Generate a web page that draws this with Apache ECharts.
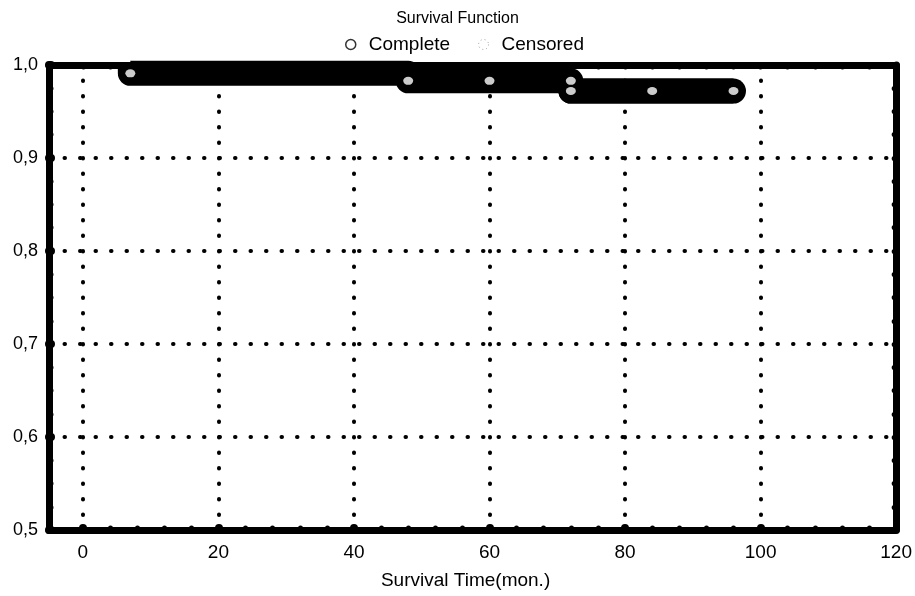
<!DOCTYPE html>
<html>
<head>
<meta charset="utf-8">
<script src="https://cdn.jsdelivr.net/npm/echarts@6/dist/echarts.min.js"></script>
<style>
  html, body { margin: 0; padding: 0; background: #fff; }
  #show { width: 915px; height: 596px; }
</style>
</head>
<body>
<div id="show"></div>
<script>
var myChart = echarts.init(document.getElementById("show"));

// step function of the survival estimate
var stepTimes = [7, 48, 72];
var survival = [1.0, 0.991, 0.983, 0.972];
var endTime = 96;

// markers
var completeTimes = [7, 48, 72];
var completeValues = [0.991, 0.983, 0.972];
var censoredTimes = [60, 72, 84, 96];
var censoredValues = [0.983, 0.983, 0.972, 0.972];

var xLabels = [0, 20, 40, 60, 80, 100, 120];
var xMajor = [0, 20, 40, 60, 80, 100];
var xMinor = [0, 4, 8, 12, 16, 20, 24, 28, 32, 36, 40, 44, 48, 52, 56, 60, 64, 68, 72, 76, 80, 84, 88, 92, 96, 100, 104, 108, 112, 116];

var stepData = [];
for (var i = 0; i < stepTimes.length; i++) {
    stepData.push([stepTimes[i], survival[i]]);
    stepData.push([stepTimes[i], survival[i + 1]]);
}
stepData.push([endTime, survival[survival.length - 1]]);
// last horizontal piece, drawn again with a round end
var tailData = stepData.slice(-2);

function pairs(xs, ys) {
    return xs.map(function (x, i) { return [x, ys[i]]; });
}

var font = 'Liberation Sans, Arial, sans-serif';
var dots = { color: '#000', width: 4, type: [0.5, 15], cap: 'round' };
var border = { show: true, onZero: false, lineStyle: { color: '#000', width: 7, cap: 'round' } };

myChart.setOption(option = {
    animation: false,
    title: {
        text: 'Survival Function',
        left: 'center',
        top: 6,
        textStyle: { fontFamily: font, fontSize: 16, fontWeight: 'normal', color: '#000' }
    },
    legend: {
        top: 30,
        left: 340,
        itemGap: 28,
        itemWidth: 10,
        itemHeight: 10,
        textStyle: { fontFamily: font, fontSize: 19, color: '#000', padding: [0, 0, 0, 8] },
        data: [
            { name: 'Complete', itemStyle: { color: '#fff', borderColor: '#000', borderWidth: 1.5 } },
            { name: 'Censored', itemStyle: { color: '#fff', borderColor: '#888', borderWidth: 1, borderType: [1, 3] } }
        ]
    },
    grid: { left: 49, right: 16, top: 65, bottom: 66 },
    xAxis: [
        {
            type: 'value', position: 'bottom', min: -5, max: 120,
            name: 'Survival Time(mon.)', nameLocation: 'middle', nameGap: 41,
            nameTextStyle: { fontFamily: font, fontSize: 19, color: '#000', padding: [0, 14, 0, 0] },
            axisLine: border,
            axisTick: { show: true, inside: true, length: 2, customValues: xMajor,
                lineStyle: { color: '#000', width: 8, cap: 'round' } },
            axisLabel: { customValues: xLabels, margin: 13, color: '#000', fontFamily: font, fontSize: 19 },
            splitLine: { show: true, lineStyle: dots }
        },
        {
            type: 'value', position: 'bottom', min: -5, max: 120,
            axisLine: { show: false, onZero: false },
            axisTick: { show: true, inside: true, length: 2, customValues: xMinor,
                lineStyle: { color: '#000', width: 5, cap: 'round' } },
            axisLabel: { show: false },
            splitLine: { show: false }
        },
        {
            type: 'value', position: 'top', min: -5, max: 120,
            axisLine: border,
            axisTick: { show: true, inside: true, length: 2, customValues: xMinor,
                lineStyle: { color: '#000', width: 5, cap: 'round' } },
            axisLabel: { show: false },
            splitLine: { show: false }
        }
    ],
    yAxis: [
        {
            type: 'value', position: 'left', min: 0.5, max: 1.0, interval: 0.1,
            axisLine: border,
            axisTick: { show: true, inside: true, length: 2, lineStyle: { color: '#000', width: 8, cap: 'round' } },
            minorTick: { show: true, splitNumber: 4, length: 2, lineStyle: { color: '#000', width: 5, cap: 'round' } },
            axisLabel: {
                margin: 11, color: '#000', fontFamily: font, fontSize: 18,
                formatter: function (v) { return v.toFixed(1).replace('.', ','); }
            },
            splitLine: { show: true, lineStyle: dots }
        },
        {
            type: 'value', position: 'right', min: 0.5, max: 1.0, interval: 0.1,
            axisLine: border,
            axisTick: { show: true, inside: true, length: 2, lineStyle: { color: '#000', width: 5, cap: 'round' } },
            minorTick: { show: true, splitNumber: 4, length: 2, lineStyle: { color: '#000', width: 5, cap: 'round' } },
            axisLabel: { show: false },
            splitLine: { show: false }
        }
    ],
    series: [
        {
            name: 'step',
            type: 'line',
            xAxisIndex: 0, yAxisIndex: 0,
            data: stepData,
            showSymbol: false,
            z: 3,
            lineStyle: { color: '#000', width: 25, cap: 'butt', join: 'round' }
        },
        {
            name: 'tail',
            type: 'line',
            xAxisIndex: 0, yAxisIndex: 0,
            data: tailData,
            showSymbol: false,
            z: 3,
            lineStyle: { color: '#000', width: 25, cap: 'round' }
        },
        {
            name: 'Complete',
            type: 'scatter',
            xAxisIndex: 0, yAxisIndex: 0,
            data: pairs(completeTimes, completeValues),
            symbol: 'circle',
            symbolSize: [10, 8],
            z: 5,
            itemStyle: { color: '#fff', borderWidth: 0 }
        },
        {
            name: 'Censored',
            type: 'scatter',
            xAxisIndex: 0, yAxisIndex: 0,
            data: pairs(censoredTimes, censoredValues),
            symbol: 'circle',
            symbolSize: [10, 8],
            z: 5,
            itemStyle: { color: '#fff', borderWidth: 0 }
        }
    ]
});
</script>
</body>
</html>
